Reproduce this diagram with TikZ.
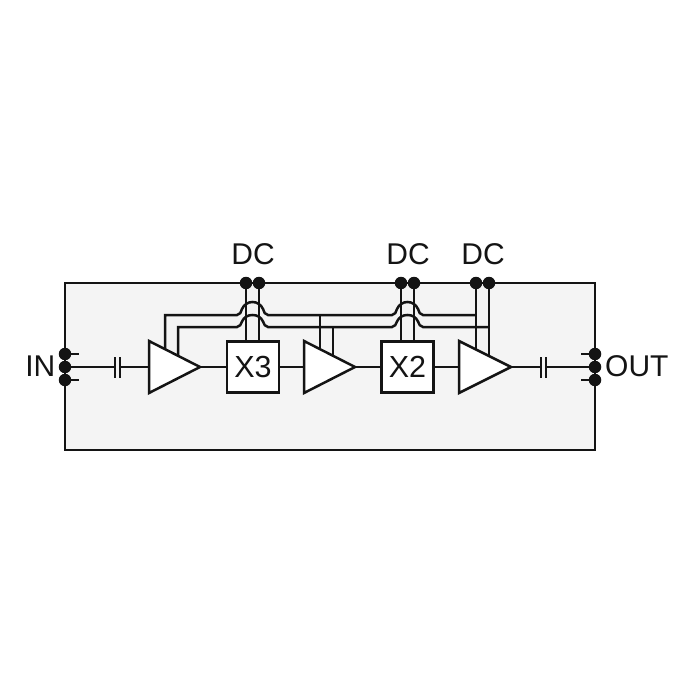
\documentclass[tikz,border=0pt]{standalone}
\usepackage{fontspec}
\setmainfont{Liberation Sans}
\definecolor{panel}{HTML}{F4F4F4}
\definecolor{ink}{HTML}{141414}
\tikzset{
  wire/.style={line width=2.5pt,line cap=butt,line join=miter,draw=ink},
  frame/.style={wire,fill=panel},
  amp/.style={wire,fill=white},
  multbox/.style={wire,fill=white,rectangle,minimum width=52pt,minimum height=51pt,inner sep=0pt,font=\fontsize{30.5}{30}\selectfont,text=ink},
  pin/.style={circle,fill=ink,inner sep=0pt,minimum size=12.5pt},
  lbl/.style={inner sep=0pt,font=\fontsize{30}{30}\selectfont,text=ink},
}
\begin{document}
\begin{tikzpicture}[x=1pt,y=-1pt]
\useasboundingbox (0,0) rectangle (700,700);
\fill[white] (0,0) rectangle (700,700);
\draw[frame] (65,283) rectangle (595,450);

% pins
\node[pin] (dcAa) at (246,283) {};
\node[pin] (dcAb) at (259,283) {};
\node[pin] (dcBa) at (401,283) {};
\node[pin] (dcBb) at (414,283) {};
\node[pin] (dcCa) at (476,283) {};
\node[pin] (dcCb) at (489,283) {};
\node[pin] (inT) at (65,354) {};
\node[pin] (inM) at (65,367) {};
\node[pin] (inB) at (65,380) {};
\node[pin] (outT) at (595,354) {};
\node[pin] (outM) at (595,367) {};
\node[pin] (outB) at (595,380) {};

% stubs
\coordinate (inTs) at (79,354);
\coordinate (inBs) at (79,380);
\coordinate (outTs) at (581,354);
\coordinate (outBs) at (581,380);
\draw[wire] (inT.center) -- (inTs);
\draw[wire] (inB.center) -- (inBs);
\draw[wire] (outT.center) -- (outTs);
\draw[wire] (outB.center) -- (outBs);

% bias rails with hops
\draw[wire] (165,349) -- (165,315) -- (237,315)
  .. controls (240,315) and (241,312) .. (242,309)
  .. controls (244,304.5) and (248,302) .. (252.5,302)
  .. controls (257,302) and (261,304.5) .. (263,309)
  .. controls (264,312) and (265,315) .. (268,315)
  -- (392,315)
  .. controls (395,315) and (396,312) .. (397,309)
  .. controls (399,304.5) and (403,302) .. (407.5,302)
  .. controls (412,302) and (416,304.5) .. (418,309)
  .. controls (419,312) and (420,315) .. (423,315)
  -- (476,315);
\draw[wire] (178,356) -- (178,327) -- (237,327)
  .. controls (240,327) and (241,324) .. (242,321.5)
  .. controls (244,317) and (248,315) .. (252.5,315)
  .. controls (257,315) and (261,317) .. (263,321.5)
  .. controls (264,324) and (265,327) .. (268,327)
  -- (392,327)
  .. controls (395,327) and (396,324) .. (397,321.5)
  .. controls (399,317) and (403,315) .. (407.5,315)
  .. controls (412,315) and (416,317) .. (418,321.5)
  .. controls (419,324) and (420,327) .. (423,327)
  -- (489,327);
\draw[wire] (320,315) -- (320,350);
\draw[wire] (333,327) -- (333,356);

% signal path
\coordinate (capAl) at (115,367);
\coordinate (capAr) at (120,367);
\coordinate (capBl) at (541,367);
\coordinate (capBr) at (546,367);
\draw[wire] (inM.center) -- (capAl);
\draw[wire] (capAr) -- (capBl);
\draw[wire] (capBr) -- (outM.center);
\draw[wire] (115,357) -- (115,378);
\draw[wire] (120,357) -- (120,378);
\draw[wire] (541,357) -- (541,378);
\draw[wire] (546,357) -- (546,378);

% amplifiers
\draw[amp] (149,341) -- (200,367) -- (149,393) -- cycle;
\draw[amp] (304,341) -- (355,367) -- (304,393) -- cycle;
\draw[amp] (459,341) -- (511,367) -- (459,393) -- cycle;

% multipliers
\node[multbox,draw] (xthree) at (253,367) {\raisebox{1pt}{X3}};
\node[multbox,draw] (xtwo) at (407.5,367) {\raisebox{1pt}{X2}};

% DC feeds
\draw[wire] (dcAa.center) -- (xthree.north -| dcAa);
\draw[wire] (dcAb.center) -- (xthree.north -| dcAb);
\draw[wire] (dcBa.center) -- (xtwo.north -| dcBa);
\draw[wire] (dcBb.center) -- (xtwo.north -| dcBb);
\draw[wire] (dcCa.center) -- (476,350);
\draw[wire] (dcCb.center) -- (489,356);

% labels
\node[lbl,anchor=base] (dcA) at (253,264) {DC};
\node[lbl,anchor=base] (dcB) at (408,264) {DC};
\node[lbl,anchor=base] (dcC) at (483,264) {DC};
\node[lbl,anchor=base east] (inL) at (55.5,376) {IN};
\node[lbl,anchor=base west] (outL) at (605,376) {OUT};
\end{tikzpicture}
\end{document}
